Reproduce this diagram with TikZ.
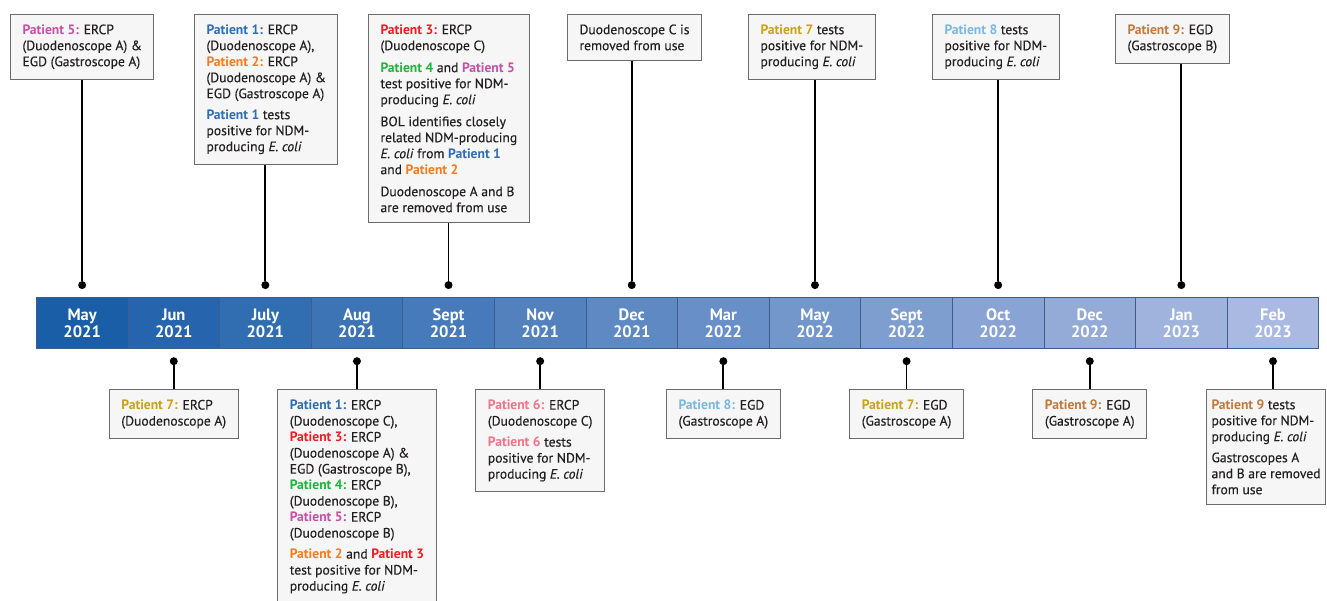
\documentclass[tikz,border=0pt]{standalone}
\usepackage{fontspec}
\setmainfont{PT Sans}[UprightFeatures={FakeBold=0.35},ItalicFeatures={FakeBold=0.35}]
\usetikzlibrary{positioning}

\definecolor{barA}{HTML}{1A5EA8}
\definecolor{barB}{HTML}{AAB9E1}
\definecolor{barline}{HTML}{3E5C8C}
\definecolor{boxline}{HTML}{6B6B6B}
\definecolor{boxfill}{HTML}{F6F6F6}
\definecolor{ink}{HTML}{231F20}
\definecolor{pone}{HTML}{2F6DB5}
\definecolor{ptwo}{HTML}{F47B20}
\definecolor{pthree}{HTML}{EE1C25}
\definecolor{pfour}{HTML}{1DB53B}
\definecolor{pfive}{HTML}{C84FA5}
\definecolor{psix}{HTML}{F0748A}
\definecolor{pseven}{HTML}{C9A21A}
\definecolor{peight}{HTML}{7AB8E0}
\definecolor{pnine}{HTML}{C07A3E}

\newcommand{\pat}[2]{{\bfseries\color{#1}#2}}
\newcommand{\ecoli}{\emph{E. coli}}

\tikzset{
  month/.style={draw=barline, line width=0.7pt, minimum width=91.6pt,
    minimum height=51pt, inner sep=0pt, anchor=south west, align=center,
    text=white, font=\fontsize{16.5}{17}\selectfont\bfseries},
  dot/.style={circle, fill=black, inner sep=0pt, minimum size=8pt},
  evbox/.style={draw=boxline, fill=boxfill, line width=1pt, inner xsep=12pt,
    inner ysep=10pt, align=left, text=ink, font=\fontsize{13.6}{16}\selectfont},
  stem/.style={line width=1.8pt, black},
}

\begin{document}
\begin{tikzpicture}[x=1pt,y=1pt]
  \useasboundingbox (0,0) rectangle (1327,600);

  % timeline bar
  \foreach \mo/\yr [count=\i] in {May/2021,Jun/2021,July/2021,Aug/2021,Sept/2021,Nov/2021,Dec/2021,
      Mar/2022,May/2022,Sept/2022,Oct/2022,Dec/2022,Jan/2023,Feb/2023}{
    \pgfmathtruncatemacro\p{100*(14-\i)/13}
    \node[month, fill=barA!\p!barB] (m\i) at ({36+(\i-1)*91.6},251) {\mo\\\yr};
  }

  % dots above and below
  \foreach \i in {1,3,...,13}
    \node[dot, above=8pt of m\i] (d\i) {};
  \foreach \i in {2,4,...,14}
    \node[dot, below=8pt of m\i] (d\i) {};

  % events above the bar
  \node[evbox, anchor=north west] (t1) at (10,586)
    {\pat{pfive}{Patient 5:} ERCP\\(Duodenoscope A) \&\\EGD (Gastroscope A)};
  \node[evbox, anchor=north west] (t2) at (194,586)
    {\pat{pone}{Patient 1:} ERCP\\(Duodenoscope A),\\\pat{ptwo}{Patient 2:} ERCP\\(Duodenoscope A) \&\\EGD (Gastroscope A)\\[5pt]
     \pat{pone}{Patient 1} tests\\positive for NDM-\\producing \ecoli};
  \node[evbox, anchor=north west] (t3) at (368,586)
    {\pat{pthree}{Patient 3:} ERCP\\(Duodenoscope C)\\[6pt]
     \pat{pfour}{Patient 4} and \pat{pfive}{Patient 5}\\test positive for NDM-\\producing \ecoli\\[6pt]
     BOL identifies closely\\related NDM-producing\\\ecoli{} from \pat{pone}{Patient 1}\\and \pat{ptwo}{Patient 2}\\[6pt]
     Duodenoscope A and B\\are removed from use};
  \node[evbox, anchor=north west] (t4) at (567,586)
    {Duodenoscope C is\\removed from use};
  \node[evbox, anchor=north west] (t5) at (748,586)
    {\pat{pseven}{Patient 7} tests\\positive for NDM-\\producing \ecoli};
  \node[evbox, anchor=north west] (t6) at (932,586)
    {\pat{peight}{Patient 8} tests\\positive for NDM-\\producing \ecoli};
  \node[evbox, anchor=north west] (t7) at (1115,586)
    {\pat{pnine}{Patient 9:} EGD\\(Gastroscope B)};

  % events below the bar
  \node[evbox, below=24pt of d2] (b1)
    {\pat{pseven}{Patient 7:} ERCP\\(Duodenoscope A)};
  \node[evbox, below=24pt of d4] (b2)
    {\pat{pone}{Patient 1:} ERCP\\(Duodenoscope C),\\\pat{pthree}{Patient 3:} ERCP\\(Duodenoscope A) \&\\EGD (Gastroscope B),\\
     \pat{pfour}{Patient 4:} ERCP\\(Duodenoscope B),\\\pat{pfive}{Patient 5:} ERCP\\(Duodenoscope B)\\[5pt]
     \pat{ptwo}{Patient 2} and \pat{pthree}{Patient 3}\\test positive for NDM-\\producing \ecoli};
  \node[evbox, below=24pt of d6] (b3)
    {\pat{psix}{Patient 6:} ERCP\\(Duodenoscope C)\\[5pt]\pat{psix}{Patient 6} tests\\positive for NDM-\\producing \ecoli};
  \node[evbox, below=24pt of d8] (b4)
    {\pat{peight}{Patient 8:} EGD\\(Gastroscope A)};
  \node[evbox, below=24pt of d10] (b5)
    {\pat{pseven}{Patient 7:} EGD\\(Gastroscope A)};
  \node[evbox, below=24pt of d12] (b6)
    {\pat{pnine}{Patient 9:} EGD\\(Gastroscope A)};
  \node[evbox, inner xsep=5pt, anchor=north east] (b7) at (1326,211)
    {\pat{pnine}{Patient 9} tests\\positive for NDM-\\producing \ecoli\\[5pt]Gastroscopes A\\and B are removed\\from use};

  % stems
  \foreach \t/\d in {t1/d1,t2/d3,t3/d5,t4/d7,t5/d9,t6/d11,t7/d13}
    \draw[stem] (\t.south -| \d) -- (\d);
  \foreach \b/\d in {b1/d2,b2/d4,b3/d6,b4/d8,b5/d10,b6/d12,b7/d14}
    \draw[stem] (\b.north -| \d) -- (\d);
\end{tikzpicture}
\end{document}
